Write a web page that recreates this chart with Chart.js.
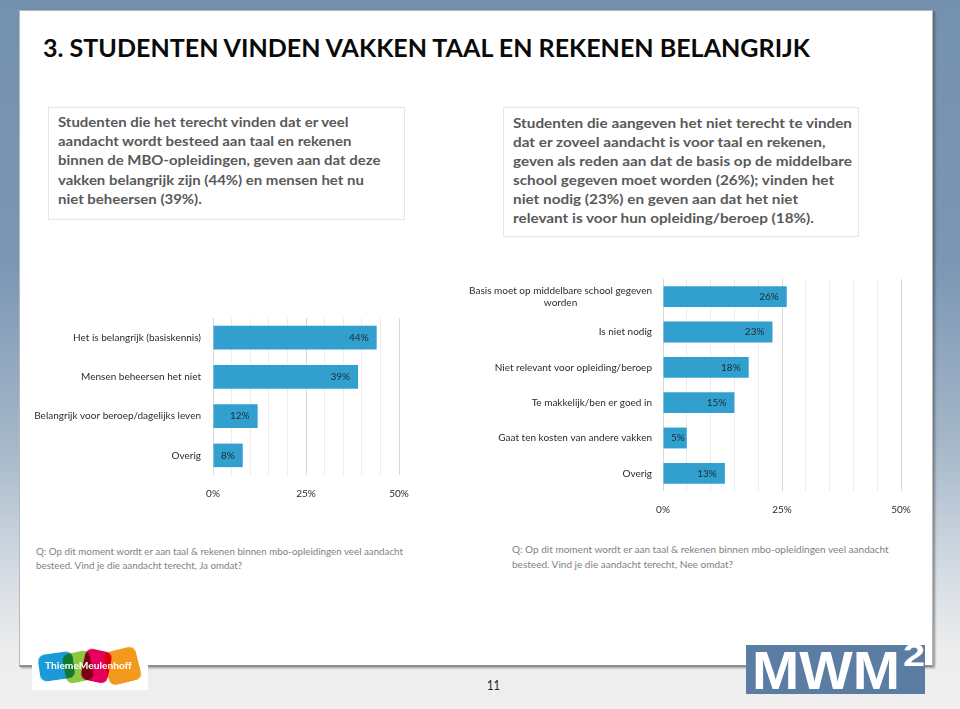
<!DOCTYPE html>
<html><head><meta charset="utf-8">
<script src="https://cdn.jsdelivr.net/npm/chart.js@4.4.1/dist/chart.umd.min.js"></script>
<style>
html,body{margin:0;padding:0}
body{width:960px;height:709px;overflow:hidden;position:relative;font-family:Lato,"Open Sans",sans-serif;
background:linear-gradient(to bottom,#7591b0 0px,#7a96b4 260px,#a4b6c8 440px,#d3dbe3 570px,#ededed 650px,#efefef 709px);}
.abs{position:absolute}
#slide{left:19px;top:10px;width:914px;height:657px;background:#fff;border:1px solid #b8b8b8;border-bottom:2px solid #8e8e8e;box-sizing:border-box;box-shadow:2px 1px 2px rgba(50,50,50,.45)}
#title{left:43px;top:35.5px;font-size:24.5px;line-height:24px;font-weight:700;color:#0a0a0a;white-space:nowrap;width:max-content}
.box{background:#fff;border:1px solid #e6e6e6;box-sizing:border-box}
.txt{font-weight:700;font-size:14px;color:#595959}
.txt div,.foot div{width:max-content;white-space:nowrap}
.foot{font-size:9.5px;color:#7f7f7f;line-height:14.3px}
#page{left:487px;top:677.7px;font-size:14px;line-height:14px;color:#222;width:max-content}
#thieme{left:32px;top:648px;width:116px;height:42px;background:#fff}
.sh{position:absolute;border-radius:7px;mix-blend-mode:multiply}
#ttxt{left:45px;top:660.6px;font-size:9.5px;line-height:10px;font-weight:700;color:#fff;white-space:nowrap;width:max-content}
#mwmbox{left:746px;top:645px;width:179px;height:49px;background:#5b7da3}
#mwm{left:752px;top:643.8px;font-family:"Liberation Sans",Arial,sans-serif;font-weight:700;font-size:53px;line-height:53px;color:#fff;white-space:nowrap;width:max-content}
#sq{left:903px;top:638.8px;font-family:"Liberation Sans",Arial,sans-serif;font-weight:700;font-size:32px;line-height:32px;color:#fff;width:max-content}
canvas{position:absolute}
</style></head>
<body>
<div id="slide" class="abs"></div>
<div id="title" class="abs" data-target="767">3. STUDENTEN VINDEN VAKKEN TAAL EN REKENEN BELANGRIJK</div>

<div class="box abs" style="left:48px;top:107px;width:357px;height:113px"></div>
<div class="txt abs" style="left:58.3px;top:111.8px;line-height:19.25px" data-target="322.4" data-ref="2">
<div>Studenten die het terecht vinden dat er veel</div>
<div>aandacht wordt besteed aan taal en rekenen</div>
<div>binnen de MBO-opleidingen, geven aan dat deze</div>
<div>vakken belangrijk zijn (44%) en mensen het nu</div>
<div>niet beheersen (39%).</div>
</div>

<div class="box abs" style="left:503px;top:107px;width:356px;height:130px"></div>
<div class="txt abs" style="left:512.7px;top:113.4px;line-height:19px" data-target="339" data-ref="0">
<div>Studenten die aangeven het niet terecht te vinden</div>
<div>dat er zoveel aandacht is voor taal en rekenen,</div>
<div>geven als reden aan dat de basis op de middelbare</div>
<div>school gegeven moet worden (26%); vinden het</div>
<div>niet nodig (23%) en geven aan dat het niet</div>
<div>relevant is voor hun opleiding/beroep (18%).</div>
</div>

<canvas id="c1" width="400" height="210" style="left:30px;top:300px"></canvas>
<canvas id="c2" width="470" height="260" style="left:460px;top:262px"></canvas>

<div class="foot abs" style="left:36px;top:545px" data-target="367" data-ref="0">
<div>Q: Op dit moment wordt er aan taal &amp; rekenen binnen mbo-opleidingen veel aandacht</div>
<div>besteed. Vind je die aandacht terecht, Ja omdat?</div>
</div>
<div class="foot abs" style="left:511.7px;top:543.3px;line-height:14.4px" data-target="376.7" data-ref="0">
<div>Q: Op dit moment wordt er aan taal &amp; rekenen binnen mbo-opleidingen veel aandacht</div>
<div>besteed. Vind je die aandacht terecht, Nee omdat?</div>
</div>

<div id="thieme" class="abs"></div>
<div class="sh" style="left:39px;top:653px;width:35px;height:27px;background:#1a9ad6;transform:rotate(-8deg)"></div>
<div class="sh" style="left:64px;top:652px;width:28px;height:30px;background:#8dc63f;transform:rotate(-12deg)"></div>
<div class="sh" style="left:83px;top:650px;width:27px;height:32px;background:#e4005b;transform:rotate(12deg)"></div>
<div class="sh" style="left:106px;top:649px;width:33px;height:34px;background:#f39a1e;transform:rotate(-14deg)"></div>
<div id="ttxt" class="abs" data-target="86.7">ThiemeMeulenhoff</div>

<div id="mwmbox" class="abs"></div>
<div id="mwm" class="abs" data-target="148">MWM</div>
<div id="sq" class="abs" data-target="22">2</div>

<div id="page" class="abs" data-target="13">11</div>

<script>
// ---- data ----
const leftCategories = ['Het is belangrijk (basiskennis)', 'Mensen beheersen het niet', 'Belangrijk voor beroep/dagelijks leven', 'Overig'];
const leftValues = [44, 39, 12, 8];
const rightCategories = [['Basis moet op middelbare school gegeven', 'worden'], 'Is niet nodig', 'Niet relevant voor opleiding/beroep', 'Te makkelijk/ben er goed in', 'Gaat ten kosten van andere vakken', 'Overig'];
const rightValues = [26, 23, 18, 15, 5, 13];
const axisTicks = [0, 25, 50];
const axisTickLabels = ['0%', '25%', '50%'];
const axisMax = 50;
const gridStep = 5;

// ---- fit html text widths ----
document.querySelectorAll('[data-target]').forEach(el => {
  const ref = el.children.length ? el.children[+(el.dataset.ref || 0)] : el;
  const w = ref.getBoundingClientRect().width;
  el.style.transformOrigin = '0 0';
  el.style.transform = 'scaleX(' + (+el.dataset.target / w) + ')';
});

// ---- chart font ----
const FONT = 'Lato';
const FS = (() => {
  const c = document.createElement('canvas').getContext('2d');
  c.font = '10.5px ' + FONT;
  const w = c.measureText('Het is belangrijk (basiskennis)').width;
  return Math.round(10.5 * 128 / w * 10) / 10;
})();
const BAR = '#31a0cf';
const TXT = '#2b2b2b';

const labelPlugin = {
  id: 'barLabels',
  beforeDraw(chart) {
    const s = chart.scales.y;
    const items = s.getLabelItems(chart.chartArea);
    const ctx = chart.ctx;
    items.forEach(it => {
      if (Array.isArray(it.label) && !it._centered) {
        ctx.save();
        ctx.font = (it.font && it.font.string) || (FS + 'px ' + FONT);
        const w = Math.max(...it.label.map(l => ctx.measureText(l).width));
        ctx.restore();
        it.options.textAlign = 'center';
        it.options.translation[0] -= w / 2;
        it._centered = true;
      }
    });
  },
  afterDatasetsDraw(chart) {
    const ctx = chart.ctx;
    const meta = chart.getDatasetMeta(0);
    const ds = chart.data.datasets[0];
    ctx.save();
    ctx.font = FS + 'px ' + FONT;
    ctx.fillStyle = '#1f2a33';
    ctx.textAlign = 'right';
    ctx.textBaseline = 'middle';
    meta.data.forEach((bar, i) => {
      const p = bar.getProps(['x', 'y', 'base'], true);
      const t = ds.data[i] + '%';
      const w = ctx.measureText(t).width;
      const r = Math.max(p.x - 8, p.base + 7.5 + w);
      ctx.fillText(t, r, p.y);
    });
    ctx.restore();
  }
};

function makeChart(id, cats, vals, o) {
  return new Chart(document.getElementById(id), {
    type: 'bar',
    data: { labels: cats, datasets: [{ data: vals, backgroundColor: BAR, borderWidth: 0, barPercentage: o.barPct, categoryPercentage: 1 }] },
    options: {
      indexAxis: 'y', responsive: false, animation: false, devicePixelRatio: 1,
      layout: { padding: { top: o.padTop, right: o.padRight, bottom: 0, left: 0 } },
      plugins: { legend: { display: false }, tooltip: { enabled: false } },
      scales: {
        x: {
          type: 'linear', min: 0, max: axisMax,
          ticks: { stepSize: gridStep, autoSkip: false, maxRotation: 0, padding: o.xPad, color: TXT, font: { family: FONT, size: FS },
            callback: v => { const i = axisTicks.indexOf(v); return i >= 0 ? axisTickLabels[i] : ''; } },
          grid: { drawTicks: false, color: c => axisTicks.includes(c.tick && c.tick.value) ? '#d9d9d9' : '#ededed' },
          border: { display: false },
          afterFit: s => { s.height = o.xH; }
        },
        y: {
          ticks: { padding: o.yPad, color: TXT, font: { family: FONT, size: FS }, autoSkip: false },
          grid: { display: false, drawTicks: false },
          border: { display: false },
          afterFit: s => { s.width = o.yW; }
        }
      }
    },
    plugins: [labelPlugin]
  });
}

makeChart('c1', leftCategories, leftValues, { yW: 183, padTop: 13, padRight: 31, xH: 35, xPad: 13, yPad: 12, barPct: 0.6 });
makeChart('c2', rightCategories, rightValues, { yW: 203, padTop: 13, padRight: 29, xH: 31, xPad: 13, yPad: 11, barPct: 0.59 });
</script>
</body></html>
